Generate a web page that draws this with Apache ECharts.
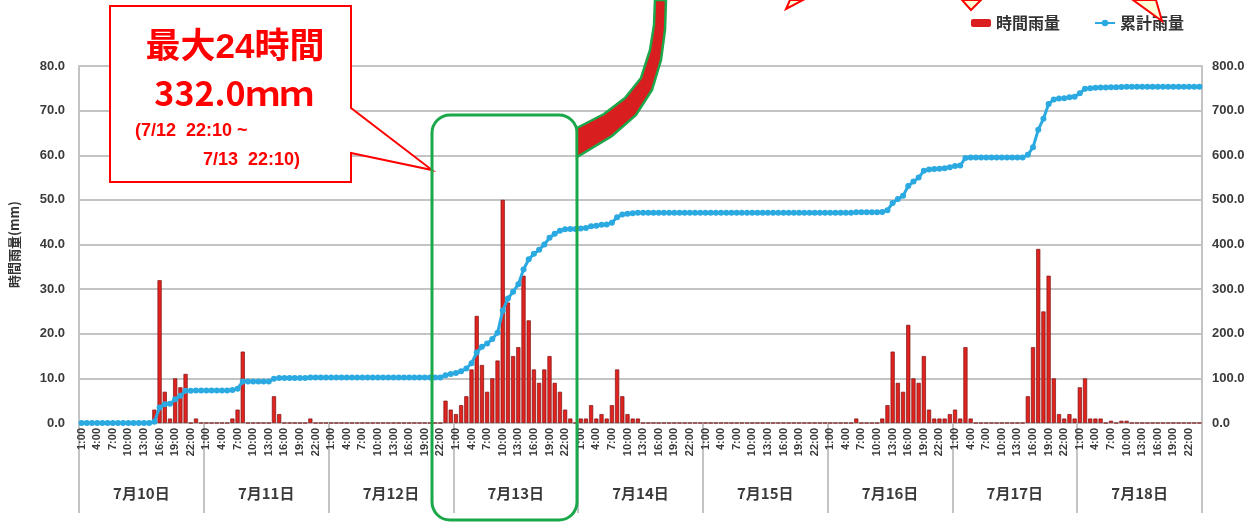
<!DOCTYPE html>
<html>
<head>
<meta charset="utf-8">
<script src="https://cdn.jsdelivr.net/npm/echarts@6/dist/echarts.min.js"></script>
<style>
html, body { margin: 0; padding: 0; background: #fff; }
#chart { width: 1257px; height: 524px; }
</style>
</head>
<body>
<div id="chart"></div>
<script>
// 日付・時刻
var days = ['7月10日', '7月11日', '7月12日', '7月13日', '7月14日', '7月15日', '7月16日', '7月17日', '7月18日'];
var hours = ['1:00', '2:00', '3:00', '4:00', '5:00', '6:00', '7:00', '8:00', '9:00', '10:00', '11:00', '12:00',
  '13:00', '14:00', '15:00', '16:00', '17:00', '18:00', '19:00', '20:00', '21:00', '22:00', '23:00', '24:00'];

// 時間雨量 (mm) 日別
var rain0710 = [0,0,0,0,0,0,0,0,0,0,0,0,0,0,3,32,7,1,10,8,11,0,1,0];
var rain0711 = [0,0,0,0,0,1,3,16,0,0,0,0,0,6,2,0,0,0,0,0,1,0,0,0];
var rain0712 = [0,0,0,0,0,0,0,0,0,0,0,0,0,0,0,0,0,0,0,0,0,0,5,3];
var rain0713 = [2,4,6,12,24,13,7,10,14,50,27,15,17,33,23,12,9,12,15,9,7,3,1,0];
var rain0714 = [1,1,4,1,2,1,4,12,6,2,1,1,0,0,0,0,0,0,0,0,0,0,0,0];
var rain0715 = [0,0,0,0,0,0,0,0,0,0,0,0,0,0,0,0,0,0,0,0,0,0,0,0];
var rain0716 = [0,0,0,0,0,1,0,0,0,0,1,4,16,9,7,22,10,9,15,3,1,1,1,2];
var rain0717 = [3,1,17,1,0,0,0,0,0,0,0,0,0,0,6,17,39,25,33,10,2,1,2,1];
var rain0718 = [8,10,1,1,1,0,0.5,0,0.5,0.5,0,0,0,0,0,0,0,0,0,0,0,0,0,0];

// 累計雨量 (mm) 日別
var total0710 = [0,0,0,0,0,0,0,0,0,0,0,0,0,0,3,35,42,43,53,61,72,72,73,73];
var total0711 = [73,73,73,73,73,74,77,93,93,93,93,93,93,99,101,101,101,101,101,101,102,102,102,102];
var total0712 = [102,102,102,102,102,102,102,102,102,102,102,102,102,102,102,102,102,102,102,102,102,102,107,110];
var total0713 = [112,116,122,134,158,171,178,188,202,252,279,294,311,344,367,379,388,400,415,424,431,434,435,435];
var total0714 = [436,437,441,442,444,445,449,461,467,469,470,471,471,471,471,471,471,471,471,471,471,471,471,471];
var total0715 = [471,471,471,471,471,471,471,471,471,471,471,471,471,471,471,471,471,471,471,471,471,471,471,471];
var total0716 = [471,471,471,471,471,472,472,472,472,472,473,477,493,502,509,531,541,550,565,568,569,570,571,573];
var total0717 = [576,577,594,595,595,595,595,595,595,595,595,595,595,595,601,618,657,682,715,725,727,728,730,731];
var total0718 = [739,749,750,751,752,752,752.5,752.5,753,753.5,753.5,753.5,753.5,753.5,753.5,753.5,753.5,753.5,753.5,753.5,753.5,753.5,753.5,753.5];

var hourly = [].concat(rain0710, rain0711, rain0712, rain0713, rain0714, rain0715, rain0716, rain0717, rain0718);
var total = [].concat(total0710, total0711, total0712, total0713, total0714, total0715, total0716, total0717, total0718);

var cats = [];
days.forEach(function (d) {
  hours.forEach(function (h) { cats.push(d + ' ' + h); });
});

var RED = '#ff0000';
var GREEN = '#1aa84a';
var GRID_GRAY = '#c4c4c4';
var LABEL_COLOR = '#3a3a3a';
var JP_FONT = "'Noto Sans CJK JP', sans-serif";

var myChart = echarts.init(document.getElementById('chart'));
myChart.setOption({
  animation: false,
  textStyle: { fontFamily: "'Liberation Sans', 'Noto Sans CJK JP', sans-serif" },
  grid: { left: 79, right: 55, top: 66, bottom: 101 },
  legend: {
    data: [
      { name: '時間雨量', itemStyle: { borderWidth: 0, color: '#d91f1f' } },
      { name: '累計雨量' }
    ],
    left: 966, top: 10,
    itemWidth: 20, itemHeight: 8, itemGap: 34,
    textStyle: { color: '#333', fontWeight: 'bold', fontSize: 16, fontFamily: JP_FONT }
  },
  xAxis: [
    {
      type: 'category',
      data: cats,
      boundaryGap: true,
      axisLine: { lineStyle: { color: GRID_GRAY, width: 2 } },
      axisTick: { show: false },
      axisLabel: {
        interval: function (i) { return i % 3 === 0; },
        rotate: 90,
        margin: 5,
        fontSize: 11,
        color: LABEL_COLOR,
        fontWeight: 'bold',
        formatter: function (v) { return v.split(' ')[1]; }
      }
    },
    {
      type: 'category',
      data: days,
      position: 'bottom',
      axisLine: { show: false },
      axisTick: { show: true, interval: 0, length: 90, lineStyle: { color: GRID_GRAY, width: 2 } },
      axisLabel: { margin: 63, fontSize: 15, color: LABEL_COLOR, fontWeight: 'bold', fontFamily: JP_FONT }
    }
  ],
  yAxis: [
    {
      type: 'value', min: 0, max: 80, interval: 10, position: 'left',
      name: '時間雨量(mm)', nameLocation: 'middle', nameGap: 58, nameRotate: 90,
      nameTextStyle: { color: '#333', fontWeight: 'bold', fontSize: 13, fontFamily: JP_FONT },
      axisLine: { show: true, lineStyle: { color: GRID_GRAY, width: 2 } },
      axisTick: { show: false },
      axisLabel: { margin: 14, fontSize: 13, color: LABEL_COLOR, fontWeight: 'bold',
        formatter: function (v) { return v.toFixed(1); } },
      splitLine: { lineStyle: { color: GRID_GRAY, width: 2 } }
    },
    {
      type: 'value', min: 0, max: 800, interval: 100, position: 'right',
      axisLine: { show: true, lineStyle: { color: GRID_GRAY, width: 2 } },
      axisTick: { show: false },
      axisLabel: { margin: 10, fontSize: 13, color: LABEL_COLOR, fontWeight: 'bold',
        formatter: function (v) { return v.toFixed(1); } },
      splitLine: { show: false }
    }
  ],
  series: [
    {
      name: '時間雨量',
      type: 'bar',
      data: hourly,
      barWidth: '80%',
      itemStyle: { color: '#e1231f', borderColor: '#7c1212', borderWidth: 0.7 }
    },
    {
      name: '累計雨量',
      type: 'line',
      yAxisIndex: 1,
      data: total,
      showAllSymbol: true,
      symbol: 'circle',
      symbolSize: 6,
      lineStyle: { color: '#2ba9e1', width: 3 },
      itemStyle: { color: '#2ba9e1' }
    }
  ],
  graphic: [
    // 吹き出し
    {
      type: 'polygon', z: 100,
      shape: { points: [[110, 6], [351, 6], [351, 108], [432, 170], [351, 153], [351, 182], [110, 182]] },
      style: { fill: '#fff', stroke: RED, lineWidth: 2 }
    },
    {
      type: 'text', z: 101,
      style: { text: '最大24時間', x: 235, y: 48, textAlign: 'center', textVerticalAlign: 'middle',
        fill: RED, font: "bold 35px 'Liberation Sans', 'Noto Sans CJK JP', sans-serif" }
    },
    {
      type: 'text', z: 101,
      style: { text: '332.0ｍｍ', x: 234, y: 93, textAlign: 'center', textVerticalAlign: 'middle',
        fill: RED, font: "bold 34px 'Noto Sans CJK JP', sans-serif" }
    },
    {
      type: 'text', z: 101,
      style: { text: '(7/12  22:10 ~', x: 135, y: 131, textAlign: 'left', textVerticalAlign: 'middle',
        fill: RED, font: "bold 18px 'Liberation Sans', sans-serif" }
    },
    {
      type: 'text', z: 101,
      style: { text: '7/13  22:10)', x: 203, y: 160, textAlign: 'left', textVerticalAlign: 'middle',
        fill: RED, font: "bold 18px 'Liberation Sans', sans-serif" }
    },
    // 緑枠
    {
      type: 'rect', z: 100,
      shape: { x: 432, y: 115, width: 145, height: 405, r: 18 },
      style: { fill: 'none', stroke: GREEN, lineWidth: 3 }
    },
    // 矢印
    {
      type: 'polygon', z: 100,
      shape: { points: [[666, 0], [665, 30], [661, 60], [652, 90], [636, 115], [612, 136], [577, 157],
        [577, 128], [604, 114], [625, 98], [641, 78], [650, 50], [654, 25], [655, 0]] },
      style: { fill: '#d81e1e', stroke: GREEN, lineWidth: 2.5 }
    },
    {
      type: 'polygon', z: 100,
      shape: { points: [[790, 0], [803, 0], [786, 9]] },
      style: { fill: '#ffffd8', stroke: RED, lineWidth: 2 }
    },
    {
      type: 'polygon', z: 100,
      shape: { points: [[962, 0], [981, 0], [971, 10]] },
      style: { fill: '#ffffd8', stroke: RED, lineWidth: 2 }
    },
    {
      type: 'polygon', z: 100,
      shape: { points: [[1133, 0], [1156, 0], [1162, 21]] },
      style: { fill: '#ffffd8', stroke: RED, lineWidth: 2 }
    }
  ]
});
</script>
</body>
</html>
